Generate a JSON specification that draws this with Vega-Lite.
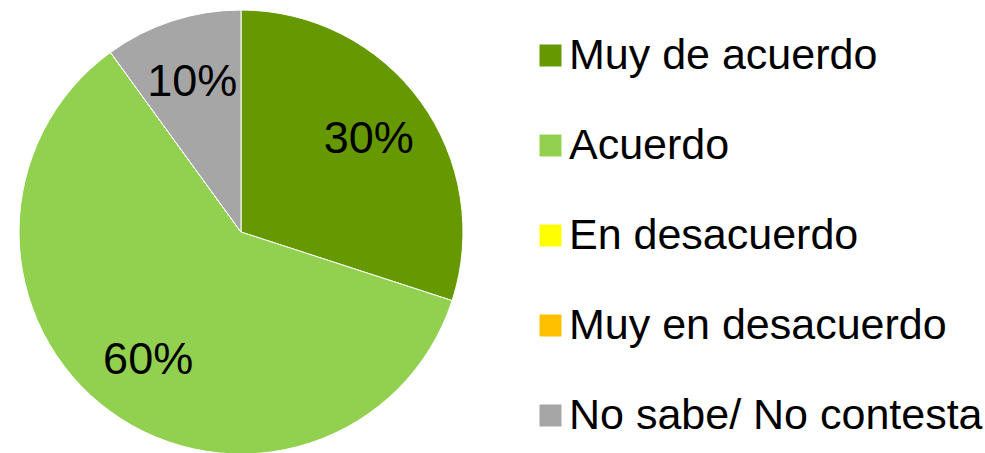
{
  "$schema": "https://vega.github.io/schema/vega-lite/v6.json",
  "width": 482,
  "height": 442,
  "autosize": "none",
  "padding": {"left": 0, "top": 11, "right": 503, "bottom": 0},
  "background": "white",
  "config": {"view": {"stroke": null}, "font": "Liberation Sans"},
  "data": {
    "values": [
      {"cat": "Muy de acuerdo", "value": 30, "ord": 1},
      {"cat": "Acuerdo", "value": 60, "ord": 2},
      {"cat": "En desacuerdo", "value": 0, "ord": 3},
      {"cat": "Muy en desacuerdo", "value": 0, "ord": 4},
      {"cat": "No sabe/ No contesta", "value": 10, "ord": 5}
    ]
  },
  "encoding": {
    "theta": {"field": "value", "type": "quantitative", "stack": true},
    "order": {"field": "ord", "type": "quantitative"},
    "color": {
      "field": "cat",
      "type": "nominal",
      "sort": ["Muy de acuerdo", "Acuerdo", "En desacuerdo", "Muy en desacuerdo", "No sabe/ No contesta"],
      "scale": {
        "domain": ["Muy de acuerdo", "Acuerdo", "En desacuerdo", "Muy en desacuerdo", "No sabe/ No contesta"],
        "range": ["#669900", "#92D050", "#FFFF00", "#FFC000", "#A6A6A6"]
      },
      "legend": {
        "orient": "none",
        "legendX": 529,
        "legendY": 23,
        "title": null,
        "padding": 0,
        "symbolType": "square",
        "symbolSize": 484,
        "symbolStrokeWidth": 0,
        "symbolOpacity": 1,
        "labelFontSize": 43,
        "labelFont": "Liberation Sans",
        "labelColor": "black",
        "labelOffset": -3,
        "labelLimit": 500,
        "rowPadding": 46
      }
    }
  },
  "layer": [
    {
      "mark": {"type": "arc", "outerRadius": 222, "stroke": "white", "strokeWidth": 1}
    },
    {
      "transform": [
        {"filter": "datum.value > 0"},
        {"calculate": "datum.value + '%'", "as": "lbl"}
      ],
      "mark": {"type": "text", "radius": 158, "fontSize": 45, "font": "Liberation Sans", "color": "black", "baseline": "middle", "align": "center"},
      "encoding": {
        "text": {"field": "lbl", "type": "nominal"},
        "color": {"value": "black"}
      }
    }
  ]
}
